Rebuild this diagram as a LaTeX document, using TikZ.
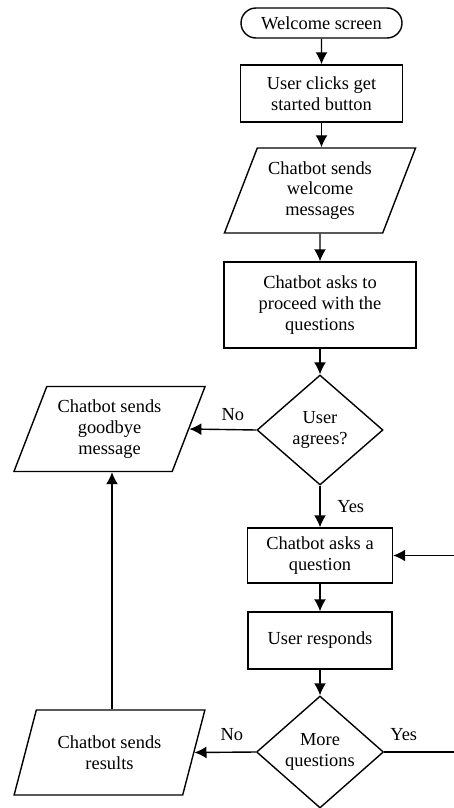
\documentclass[tikz,border=0pt]{standalone}
\usepackage{fontspec}
\setmainfont{Liberation Serif}
\usetikzlibrary{positioning,shapes,arrows.meta}

\begin{document}
\begin{tikzpicture}[x=0.5pt,y=-0.5pt,
  font=\fontsize{9.2}{10.4}\selectfont,
  myterm/.style={draw,rounded rectangle,minimum width=80.5pt,minimum height=15pt,inner sep=0pt,line width=0.7pt},
  mybox/.style={draw,rectangle,align=center,inner sep=0pt,line width=0.7pt},
  myio/.style={draw,trapezium,trapezium left angle=65,trapezium right angle=115,trapezium stretches=true,minimum width=96pt,minimum height=42.5pt,align=center,inner sep=0pt,line width=0.7pt},
  mydec/.style={draw,diamond,align=center,inner sep=0pt,line width=0.7pt},
  myarrow/.style={-{Latex[length=6pt,width=6pt]},line width=0.7pt}
]
\useasboundingbox (0,0) rectangle (454,808);

\node[myterm] (W) at (321.5,23) {Welcome screen};
\node[mybox,minimum width=81pt,minimum height=28.5pt] (S1) at (321.5,93.5) {User clicks get\\started button};
\node[myio] (M1) at (320,190.5) {Chatbot sends\\welcome\\messages};
\node[mybox,minimum width=96pt,minimum height=43pt] (S2) at (320,305) {Chatbot asks to\\proceed with the\\questions};
\node[mydec,minimum width=63pt,minimum height=55pt] (D1) at (320,430) {User\\agrees?};
\node[myio] (M2) at (109.5,429) {Chatbot sends\\goodbye\\message};
\node[mybox,minimum width=72.5pt,minimum height=27.5pt] (S3) at (320,555.5) {Chatbot asks a\\question};
\node[mybox,minimum width=72pt,minimum height=28.5pt] (S4) at (320,640.5) {User responds};
\node[mydec,minimum width=63.5pt,minimum height=56pt] (D2) at (320,752) {More\\questions};
\node[myio] (M3) at (109.5,752.5) {Chatbot sends\\results};

\coordinate (E1) at (454,555.5);
\coordinate (E2) at (454,752);

\path[myarrow]
(W) edge (S1)
(S1.south) edge (S1.south |- M1.north)
(M1) edge (S2)
(S2) edge (D1)
(D1) edge node[right=5pt,pos=0.5] {Yes} (S3)
(S3) edge (S4)
(S4) edge (D2)
(E1) edge (S3)
(D1.west) edge node[above=1pt,pos=0.35] {No} (M2.east)
(D2.west) edge node[above=2pt,pos=0.39] {No} (M3.east)
(M3.north -| 112,0) edge (M2.south -| 112,0);

\draw[line width=0.7pt] (D2.east) -- node[above=2pt,pos=0.28] {Yes} (E2);

\end{tikzpicture}
\end{document}
